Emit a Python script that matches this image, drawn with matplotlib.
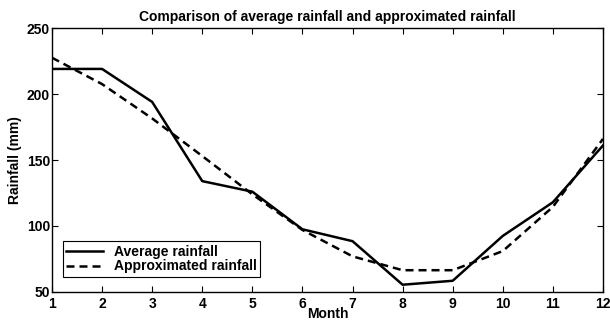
import matplotlib
matplotlib.use("Agg")
import matplotlib.pyplot as plt

months = [1, 2, 3, 4, 5, 6, 7, 8, 9, 10, 11, 12]
average_rainfall = [219, 219, 194, 134, 126, 97.5, 88.5, 55.5, 58.5, 92.5, 118, 161]
approx_rainfall = [227.5, 207.5, 181.5, 153, 124, 97, 77, 66.5, 66.5, 81, 114.5, 166]
xticks = list(range(1, 13))
yticks = [50, 100, 150, 200, 250]

plt.rcParams['font.family'] = ['Liberation Sans', 'DejaVu Sans']
plt.rcParams['font.weight'] = 'bold'

fig = plt.figure(figsize=(6.10, 3.22), dpi=100)
ax = fig.add_axes([0.0852, 0.0932, 0.9033, 0.8198])

ax.plot(months, average_rainfall, color='black', lw=1.8, ls='-', label='Average rainfall')
ax.plot(months, approx_rainfall, color='black', lw=1.8, ls=(0, (3.2, 2.0)), label='Approximated rainfall')

ax.set_xlim(1, 12)
ax.set_ylim(50, 250)
ax.set_xticks(xticks)
ax.set_yticks(yticks)
ax.tick_params(direction='in', top=True, right=True, length=4, width=0.8,
               labelsize=10)
ax.tick_params(axis='x', pad=3.5)
ax.tick_params(axis='y', pad=1.5)
for lab in ax.get_xticklabels() + ax.get_yticklabels():
    lab.set_fontweight('bold')
for s in ax.spines.values():
    s.set_linewidth(1.0)

ax.set_title('Comparison of average rainfall and approximated rainfall',
             fontsize=10, fontweight='bold', pad=5)
ax.set_xlabel('Month', fontsize=10, fontweight='bold', labelpad=-3)
ax.set_ylabel('Rainfall (mm)', fontsize=10, fontweight='bold', labelpad=3)

leg = ax.legend(loc='lower left', bbox_to_anchor=(0.02, 0.057), fancybox=False,
                edgecolor='black', framealpha=1, fontsize=10, borderpad=0.25,
                labelspacing=0.05, handlelength=2.6, borderaxespad=0)
leg.get_frame().set_linewidth(0.8)
for t in leg.get_texts():
    t.set_fontweight('bold')

fig.savefig('out.png', dpi=100)
